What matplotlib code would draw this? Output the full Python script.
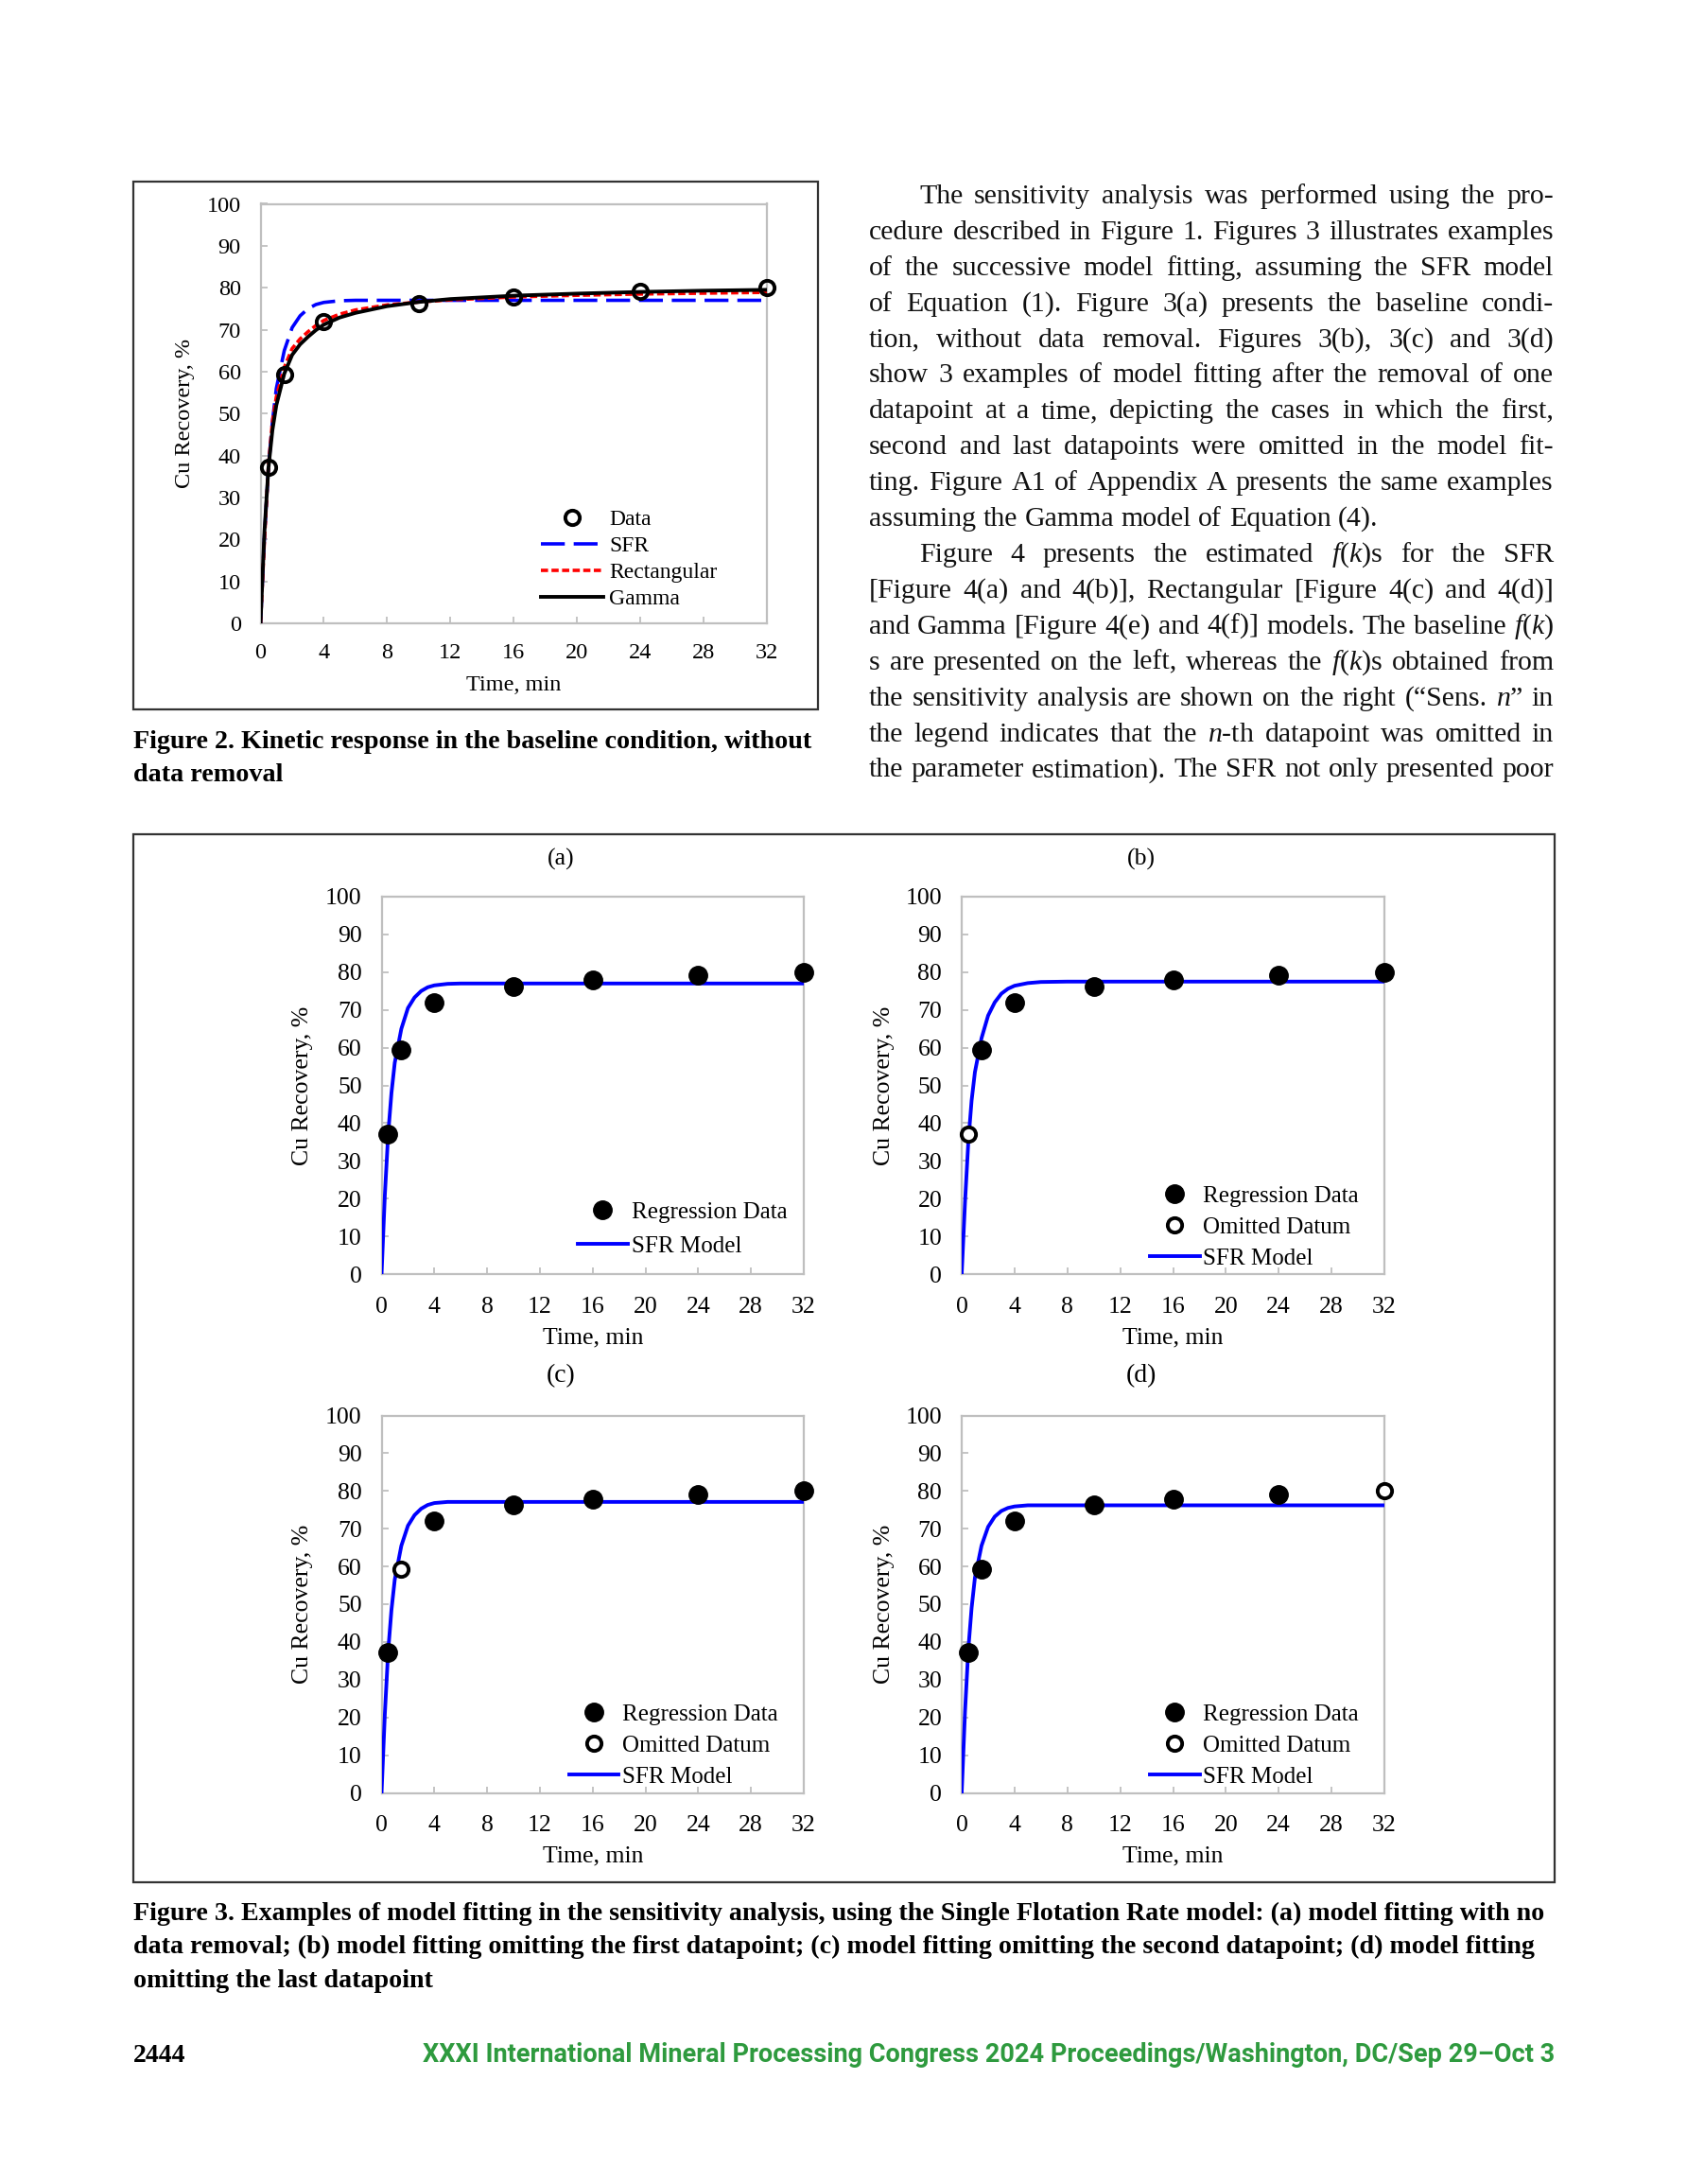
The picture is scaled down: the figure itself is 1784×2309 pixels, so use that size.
import matplotlib
matplotlib.use('Agg')
import matplotlib.pyplot as plt
from matplotlib.patches import Rectangle
from matplotlib.lines import Line2D

plt.rcParams['font.family'] = ['Liberation Serif', 'DejaVu Serif']
plt.rcParams['mathtext.fontset'] = 'custom'
plt.rcParams['mathtext.rm'] = 'Liberation Serif'
plt.rcParams['mathtext.it'] = 'Liberation Serif:italic'

W, H = 1784, 2309

# measured data
time_min = [0.5, 1.5, 4, 10, 16, 24, 32]
cu_recovery = [37.2, 59.3, 72.0, 76.3, 77.9, 79.1, 80.0]

# fitted model curves
fit_t = [0, 0.25, 0.5, 0.75, 1, 1.5, 2, 2.5, 3, 3.5, 4, 5, 6, 8, 10, 12, 16, 20, 24, 28, 32]
gamma_fit = [0, 22, 37, 46, 52, 59.5, 64, 66.5, 68.3, 69.9, 71.2, 72.9, 74.0, 75.6, 76.6, 77.3, 78.1, 78.6, 79.0, 79.3, 79.5]
rect_fit = [0, 20, 37.5, 48, 54, 61, 65.5, 67.8, 69.5, 71.0, 72.2, 73.7, 74.7, 75.9, 76.6, 77.1, 77.8, 78.2, 78.5, 78.7, 78.9]
sfr_a = [0, 21, 37, 48, 56, 65, 70.5, 73.3, 75.0, 76.0, 76.5, 76.9, 77.0, 77.0, 77.0, 77.0, 77.0, 77.0, 77.0, 77.0, 77.0]
sfr_b = [0, 19, 35, 46, 53.5, 62.5, 68.5, 72.0, 74.3, 75.6, 76.4, 77.1, 77.4, 77.5, 77.5, 77.5, 77.5, 77.5, 77.5, 77.5, 77.5]
sfr_c = [0, 21, 37.5, 48.5, 56.5, 65.5, 70.8, 73.6, 75.3, 76.3, 76.8, 77.1, 77.1, 77.1, 77.1, 77.1, 77.1, 77.1, 77.1, 77.1, 77.1]
sfr_d = [0, 21.5, 38, 49, 57, 65.5, 70.5, 73.2, 74.7, 75.5, 75.9, 76.2, 76.2, 76.2, 76.2, 76.2, 76.2, 76.2, 76.2, 76.2, 76.2]

panel_names = ['(a)', '(b)', '(c)', '(d)']
panel_sfr = [sfr_a, sfr_b, sfr_c, sfr_d]
panel_omit = [None, 0, 1, 6]

x_ticks = [0, 4, 8, 12, 16, 20, 24, 28, 32]
y_ticks = [0, 10, 20, 30, 40, 50, 60, 70, 80, 90, 100]

body_lines = [
    ("The sensitivity analysis was performed using the pro-", 'indent'),
    ("cedure described in Figure 1. Figures 3 illustrates examples", 'just'),
    ("of the successive model fitting, assuming the SFR model", 'just'),
    ("of Equation (1). Figure 3(a) presents the baseline condi-", 'just'),
    ("tion, without data removal. Figures 3(b), 3(c) and 3(d)", 'just'),
    ("show 3 examples of model fitting after the removal of one", 'just'),
    ("datapoint at a time, depicting the cases in which the first,", 'just'),
    ("second and last datapoints were omitted in the model fit-", 'just'),
    ("ting. Figure A1 of Appendix A presents the same examples", 'just'),
    ("assuming the Gamma model of Equation (4).", 'left'),
    ("Figure 4 presents the estimated $f$($k$)s for the SFR", 'indent'),
    ("[Figure 4(a) and 4(b)], Rectangular [Figure 4(c) and 4(d)]", 'just'),
    ("and Gamma [Figure 4(e) and 4(f)] models. The baseline $f$($k$)", 'just'),
    ("s are presented on the left, whereas the $f$($k$)s obtained from", 'just'),
    ("the sensitivity analysis are shown on the right (“Sens. $n$” in", 'just'),
    ("the legend indicates that the $n$-th datapoint was omitted in", 'just'),
    ("the parameter estimation). The SFR not only presented poor", 'just'),
]

fig2_caption = ["Figure 2. Kinetic response in the baseline condition, without",
                "data removal"]
fig3_caption = ["Figure 3. Examples of model fitting in the sensitivity analysis, using the Single Flotation Rate model: (a) model fitting with no",
                "data removal; (b) model fitting omitting the first datapoint; (c) model fitting omitting the second datapoint; (d) model fitting",
                "omitting the last datapoint"]
footer = "XXXI International Mineral Processing Congress 2024 Proceedings/Washington, DC/Sep 29–Oct 3"


def fx(x):
    return x / W


def fy(y):
    return 1 - y / H


fig = plt.figure(figsize=(W / 100, H / 100), dpi=100)
fig.patch.set_facecolor('white')
r = fig.canvas.get_renderer()


def add_ax(x0, x1, ytop, ybot):
    return fig.add_axes([fx(x0), fy(ybot), (x1 - x0) / W, (ybot - ytop) / H])


def style_ax(ax, size, xpad, ypad):
    ax.set_xlim(0, 32)
    ax.set_ylim(0, 100)
    ax.set_xticks(x_ticks)
    ax.set_yticks(y_ticks)
    for s in ax.spines.values():
        s.set_color('#BFBFBF')
        s.set_linewidth(1.6)
    ax.tick_params(direction='in', color='#BFBFBF', width=1.3, length=5,
                   labelsize=size)
    ax.tick_params(axis='x', pad=xpad)
    ax.tick_params(axis='y', pad=ypad)


def box(x0, y0, x1, y1):
    fig.patches.append(Rectangle((fx(x0), fy(y1)), (x1 - x0) / W, (y1 - y0) / H,
                                 transform=fig.transFigure, fill=False,
                                 edgecolor='#333333', lw=1.6))


def fit_text(x, y, s, width, ha='left', **kw):
    t = fig.text(fx(x), fy(y), s, ha=ha, va='baseline', fontsize=20, **kw)
    w = t.get_window_extent(renderer=r).width
    t.set_fontsize(20 * width / w)
    return t


# ---------------- Figure 2 ----------------
box(141, 192, 865, 750)
ax = add_ax(275.5, 811, 215.5, 659)
style_ax(ax, 17.5, 15, 15)
ax.plot(fit_t, sfr_a, color='#0000FF', lw=2.6, dashes=(7, 2.6), label='SFR', zorder=3)
ax.plot(fit_t, rect_fit, color='#FF0000', lw=2.6, dashes=(2.1, 1.0), label='Rectangular', zorder=4)
ax.plot(fit_t, gamma_fit, color='black', lw=2.8, label='Gamma', zorder=5)
ax.plot(time_min, cu_recovery, 'o', mfc='none', mec='black', mew=2.8, ms=11,
        label='Data', zorder=6, clip_on=False)
h, l = ax.get_legend_handles_labels()
order = [3, 0, 1, 2]
ax.legend([h[i] for i in order], [l[i] for i in order], loc='center left',
          bbox_to_anchor=(fx(572), fy(591.5)), bbox_transform=fig.transFigure,
          frameon=False, fontsize=17, handlelength=2.8, handletextpad=0.25,
          labelspacing=0.28, borderpad=0, borderaxespad=0)
fig.text(fx(196), fy(437), 'Cu Recovery, %', rotation=90, ha='center', va='center', fontsize=17.5)
fig.text(fx(543), fy(724.6), 'Time, min', ha='center', va='center', fontsize=17.5)

cap = fit_text(141, 791, fig2_caption[0], 719, fontweight='bold')
fig.text(fx(141), fy(826), fig2_caption[1], ha='left', va='baseline',
         fontsize=cap.get_fontsize(), fontweight='bold')

# ---------------- body text ----------------
col_x0, col_x1 = 919, 1643
indent = 972
base0, lead = 215, 37.9
body_size = 21.5


def words_of(s):
    return s.split(' ')


# shrink the body font if a line would not fit
probe = []
ratio = 1.0
for s, mode in body_lines:
    ws = words_of(s)
    tw = 0
    for w in ws:
        t = fig.text(0, 0, w, fontsize=body_size)
        tw += t.get_window_extent(renderer=r).width
        probe.append(t)
    x0 = indent if mode == 'indent' else col_x0
    avail = (col_x1 - x0) - (len(ws) - 1) * 0.15 * body_size * 100 / 72
    ratio = min(ratio, avail / tw)
for t in probe:
    t.remove()
body_size *= min(1.0, ratio)

for i, (s, mode) in enumerate(body_lines):
    y = base0 + lead * i
    x0 = indent if mode == 'indent' else col_x0
    ws = words_of(s)
    texts = [fig.text(0, fy(y), w, fontsize=body_size, va='baseline', ha='left', color='#111111') for w in ws]
    widths = [t.get_window_extent(renderer=r).width for t in texts]
    if mode == 'left':
        gap = 0.25 * body_size * 100 / 72
    else:
        gap = (col_x1 - x0 - sum(widths)) / (len(ws) - 1)
    x = x0
    for t, w in zip(texts, widths):
        t.set_x(fx(x))
        x += w + gap

# ---------------- Figure 3 ----------------
box(141, 882, 1644, 1990)
ax_x = [(403.5, 850), (1017, 1464)]
ax_y = [(948, 1347), (1496.5, 1895.5)]
title_y = [908.5, 1454.5]
xlab_y = [1414, 1962]
ylab_x = [320, 935]
leg_left = [611, 1216, 601.5, 1216]
leg_cy = [1299.6, 1297.9, 1845.5, 1845.5]
leg_sp = [0.54, 0.42, 0.42, 0.42]

for k in range(4):
    col, row = k % 2, k // 2
    x0, x1 = ax_x[col]
    yt, yb = ax_y[row]
    ax = add_ax(x0, x1, yt, yb)
    style_ax(ax, 18.5, 17, 15)
    ax.plot(fit_t, panel_sfr[k], color='#0000FF', lw=2.8, zorder=3)
    om = panel_omit[k]
    keep_t = [t for j, t in enumerate(time_min) if j != om]
    keep_r = [v for j, v in enumerate(cu_recovery) if j != om]
    ax.plot(keep_t, keep_r, 'o', color='black', ms=14, zorder=5, clip_on=False)
    handles = [Line2D([], [], ls='none', marker='o', color='black', ms=14)]
    labels = ['Regression Data']
    if om is not None:
        ax.plot([time_min[om]], [cu_recovery[om]], 'o', mfc='white', mec='black',
                mew=2.8, ms=11, zorder=6, clip_on=False)
        handles.append(Line2D([], [], ls='none', marker='o', mfc='white', mec='black', mew=2.8, ms=11))
        labels.append('Omitted Datum')
    handles.append(Line2D([], [], color='#0000FF', lw=2.8))
    labels.append('SFR Model')
    ax.legend(handles, labels, loc='center left',
              bbox_to_anchor=(fx(leg_left[k]), fy(leg_cy[k])), bbox_transform=fig.transFigure,
              frameon=False, fontsize=18, handlelength=2.1, handletextpad=0.16,
              labelspacing=leg_sp[k], borderpad=0, borderaxespad=0)
    cx = (x0 + x1) / 2
    fig.text(fx(cx - 34), fy(title_y[row]), panel_names[k], ha='center', va='center',
             fontsize=18.5 if row == 0 else 20)
    fig.text(fx(cx), fy(xlab_y[row]), 'Time, min', ha='center', va='center', fontsize=18.5)
    fig.text(fx(ylab_x[col]), fy((yt + yb) / 2), 'Cu Recovery, %', rotation=90,
             ha='center', va='center', fontsize=18.5)

cap_w = [1494, 1485, None]
cap_size = 18.6
for i, s in enumerate(fig3_caption):
    y = 2030 + 35.3 * i
    if cap_w[i]:
        cap_size = fit_text(141, y, s, cap_w[i], fontweight='bold').get_fontsize()
    else:
        fig.text(fx(141), fy(y), s, ha='left', va='baseline', fontsize=cap_size, fontweight='bold')

# ---------------- footer ----------------
fig.text(fx(141), fy(2180), '2444', ha='left', va='baseline', fontsize=20, fontweight='bold')
fit_text(1644, 2180, footer, 1192, ha='right', color='#2E9A3E', fontweight='bold',
         family=['Roboto', 'DejaVu Sans'])

fig.savefig('out.png', dpi=100, facecolor='white')
